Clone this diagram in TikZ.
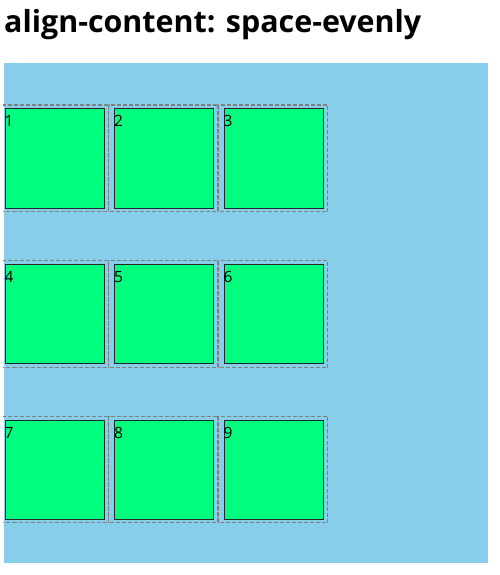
\documentclass[tikz,border=0pt]{standalone}
\usepackage{fontspec}
\setmainfont{Open Sans}
\definecolor{skyblue}{HTML}{87CEEB}
\definecolor{springgreen}{HTML}{00FF7F}
\tikzset{
  item/.style={draw=black!85, fill=springgreen, line width=1pt, minimum width=99pt, minimum height=99pt, inner sep=0pt},
  itemline/.style={draw=black!50, line width=1.1pt, dash pattern=on 4pt off 2pt},
  num/.style={anchor=north west, inner sep=0pt, yshift=-7pt, font=\fontsize{15.5}{18}\selectfont}
}
\begin{document}
\begin{tikzpicture}
  [x=1pt,y=-1pt]
  \useasboundingbox (0,0) rectangle (499,575);
  \node (title)[anchor=base west, inner sep=0pt, font=\bfseries\fontsize{30.4}{36}\selectfont] at (4,33) {align-content: space-evenly};
  \fill[skyblue] (4,63) rectangle (488,563);
  \begin{scope}
    \clip (3,0) rectangle (499,575);
    \foreach \r/\y in {0/108,1/263.7,2/419.3} {
      \foreach \c/\x in {0/4,1/113.5,2/223} {
        \pgfmathtruncatemacro{\n}{3*\r+\c+1}
        \draw[itemline] (\x-5,\y-3) rectangle (\x+104.8,\y+103.5);
        \node (box\n)[item, anchor=north west] at (\x+0.5,\y+0.5) {};
        \node (num\n)[num] at (box\n.north west) {\n};
      }
    }
  \end{scope}
\end{tikzpicture}
\end{document}
